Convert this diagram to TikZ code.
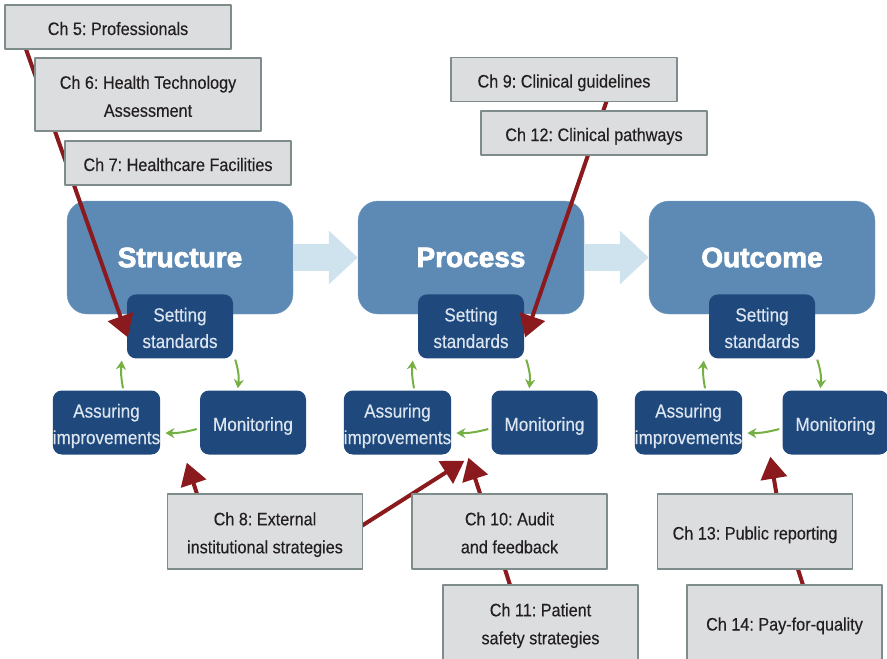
\documentclass[tikz,border=0pt]{standalone}
\usepackage{fontspec}
\setmainfont{Liberation Sans}[FakeStretch=0.9,FakeBold=0.3]
\newfontfamily\headfont{Liberation Sans}[BoldFeatures={FakeBold=2.6}]
\usetikzlibrary{arrows.meta,calc,positioning}
\definecolor{sky}{HTML}{5D8AB4}
\definecolor{navy}{HTML}{1F497D}
\definecolor{pale}{HTML}{CEE3EE}
\definecolor{leaf}{HTML}{74B043}
\definecolor{wine}{HTML}{8B1A1E}
\definecolor{paper}{HTML}{DCDDDF}
\definecolor{frame}{HTML}{7E8D8B}
\definecolor{ink}{HTML}{231F20}
\definecolor{mist}{HTML}{DCE5EF}
\pgfdeclarelayer{back}
\pgfdeclarelayer{mid}
\pgfsetlayers{back,mid,main}
\frenchspacing
\newcommand\chtop{\rule{0pt}{20pt}}
\newcommand\tktop{\rule{0pt}{20.9pt}}
\newcommand\lowstrut{\rule[-4pt]{0pt}{4pt}}
% two centred lines
\newcommand\pair[3][24pt]{\begin{tabular}{@{}c@{}}\rule{0pt}{#1}#2\\#3\end{tabular}}

\begin{document}
\begin{tikzpicture}[x=1pt,y=1pt,line cap=round,line join=round,
  stage/.style={fill=sky,draw=sky!85!white,rounded corners=20pt,
    minimum width=226pt,minimum height=113pt,text=white,
    font=\headfont\bfseries\fontsize{28}{30}\selectfont},
  task/.style={fill=navy,rounded corners=9pt,minimum width=106pt,
    minimum height=64pt,inner sep=0pt,align=center,text=mist,
    font=\fontsize{19}{26.5}\selectfont,
    execute at begin node=\tktop,execute at end node=\lowstrut},
  chap/.style={fill=paper,draw=frame,line width=1.5pt,minimum width=226pt,
    minimum height=44pt,inner sep=0pt,align=center,text=ink,
    font=\fontsize{18}{28}\selectfont,
    execute at begin node=\chtop,execute at end node=\lowstrut},
  pair/.style={execute at begin node={},execute at end node={}},
  flow/.style={pale,line cap=butt,line width=27pt,-{Triangle[length=29pt,width=52pt]}},
  cycle/.style={leaf,line width=2pt,-{Stealth[length=9pt,width=10pt]}},
  link/.style={wine,line width=4pt,-{Triangle[length=22pt,width=26pt]}}]
  \useasboundingbox (0,0) rectangle (887,-659);

  \begin{pgfonlayer}{back}
  % Stages.
  \node[stage] (str) at (180,-257.5) {Structure};
  \node[stage] (pro) at (471,-257.5) {Process};
  \node[stage] (out) at (762,-257.5) {Outcome};
  \draw[flow] (str.east) -- (pro.west);
  \draw[flow] (pro.east) -- (out.west);

  % Structure cycle.
  \node[task,pair,below=-20pt of str] (ss1) {\pair[24.6pt]{Setting}{standards}};
  \node[task,pair,minimum width=107pt] (ai1) at (106.5,-422.5)
    {\pair[24.6pt]{Assuring}{improvements}};
  \node[task] (mo1) at (253,-422.5) {Monitoring};
  \draw[cycle] ([shift={(2,-1)}]ss1.south east) to[bend left=12]
    ([shift={(38,2)}]mo1.north west);
  \draw[cycle] ([shift={(-3,-6.5)}]mo1.west) to[bend left=8]
    ([shift={(5,-10.5)}]ai1.east);
  \draw[cycle] ([shift={(16.5,2)}]ai1.north) to[bend left=8]
    ([shift={(-5,-2)}]ss1.south west);

  % Process cycle.
  \node[task,pair,below=-20pt of pro] (ss2) {\pair[24.6pt]{Setting}{standards}};
  \node[task,pair,minimum width=107pt] (ai2) at (397.5,-422.5)
    {\pair[24.6pt]{Assuring}{improvements}};
  \node[task] (mo2) at (544.5,-422.5) {Monitoring};
  \draw[cycle] ([shift={(2,-1)}]ss2.south east) to[bend left=12]
    ([shift={(38,2)}]mo2.north west);
  \draw[cycle] ([shift={(-3,-6.5)}]mo2.west) to[bend left=8]
    ([shift={(5,-10.5)}]ai2.east);
  \draw[cycle] ([shift={(16.5,2)}]ai2.north) to[bend left=8]
    ([shift={(-5,-2)}]ss2.south west);

  % Outcome cycle.
  \node[task,pair,below=-20pt of out] (ss3) {\pair[24.6pt]{Setting}{standards}};
  \node[task,pair,minimum width=107pt] (ai3) at (688.5,-422.5)
    {\pair[24.6pt]{Assuring}{improvements}};
  \node[task] (mo3) at (835.5,-422.5) {Monitoring};
  \draw[cycle] ([shift={(2,-1)}]ss3.south east) to[bend left=12]
    ([shift={(38,2)}]mo3.north west);
  \draw[cycle] ([shift={(-3,-6.5)}]mo3.west) to[bend left=8]
    ([shift={(5,-10.5)}]ai3.east);
  \draw[cycle] ([shift={(16.5,2)}]ai3.north) to[bend left=8]
    ([shift={(-5,-2)}]ss3.south west);
  \end{pgfonlayer}

  % Chapters, top.
  \node[chap] (ch5) at (118,-27) {Ch 5: Professionals};
  \node[chap,pair,minimum height=73pt] (ch6) at (148,-94.5)
    {\pair[25pt]{Ch 6: Health Technology}{Assessment}};
  \node[chap] (ch7) at (178,-163) {Ch 7: Healthcare Facilities};
  \node[chap] (ch9) at (564,-79.5) {Ch 9: Clinical guidelines};
  \node[chap] (ch12) at (594,-133) {Ch 12: Clinical pathways};

  % Chapters, bottom.
  \node[chap,pair,minimum width=195pt,minimum height=75pt] (ch8) at (265,-531.5)
    {\pair{Ch 8: External}{institutional strategies}};
  \node[chap,pair,minimum width=195pt,minimum height=75pt] (ch10) at (509.5,-531.5)
    {\pair{Ch 10: Audit}{and feedback}};
  \node[chap,pair,minimum width=195pt,minimum height=75pt] (ch11) at (540.5,-622.5)
    {\pair{Ch 11: Patient}{safety strategies}};
  \node[chap,minimum width=195pt,minimum height=75pt] (ch13) at (755,-531.5)
    {Ch 13: Public reporting};
  \node[chap,minimum width=195pt,minimum height=75pt] (ch14) at (784.5,-622.5)
    {Ch 14: Pay-for-quality};

  \begin{pgfonlayer}{mid}
  % Links.
  \draw[link] ([shift={(17,14)}]ch5.south west) -- ([shift={(1,-11)}]ss1.west);
  \draw[link] ([shift={(46,11)}]ch9.south) -- ([shift={(1,-11)}]ss2.east);
  \draw[link] ([shift={(32,-6)}]ch8.north west) -- ([shift={(-13,-8)}]mo1.south west);
  \draw[link] ([shift={(-12,-1)}]ch8.east) -- ([shift={(13,-6)}]ai2.south east);
  \draw[link] ([shift={(70,-4)}]ch10.north west) -- ([shift={(17,-3)}]ai2.south east);
  \draw[link,-] ([shift={(-26,-15)}]ch11.north) -- ([shift={(-16.5,0)}]ch10.center);
  \draw[link] ([shift={(22,-4)}]ch13.north) -- ([shift={(-12,-2)}]mo3.south west);
  \draw[link,-] ([shift={(23,-15)}]ch14.north) -- ([shift={(31,0)}]ch13.center);
  \end{pgfonlayer}
\end{tikzpicture}
\end{document}
